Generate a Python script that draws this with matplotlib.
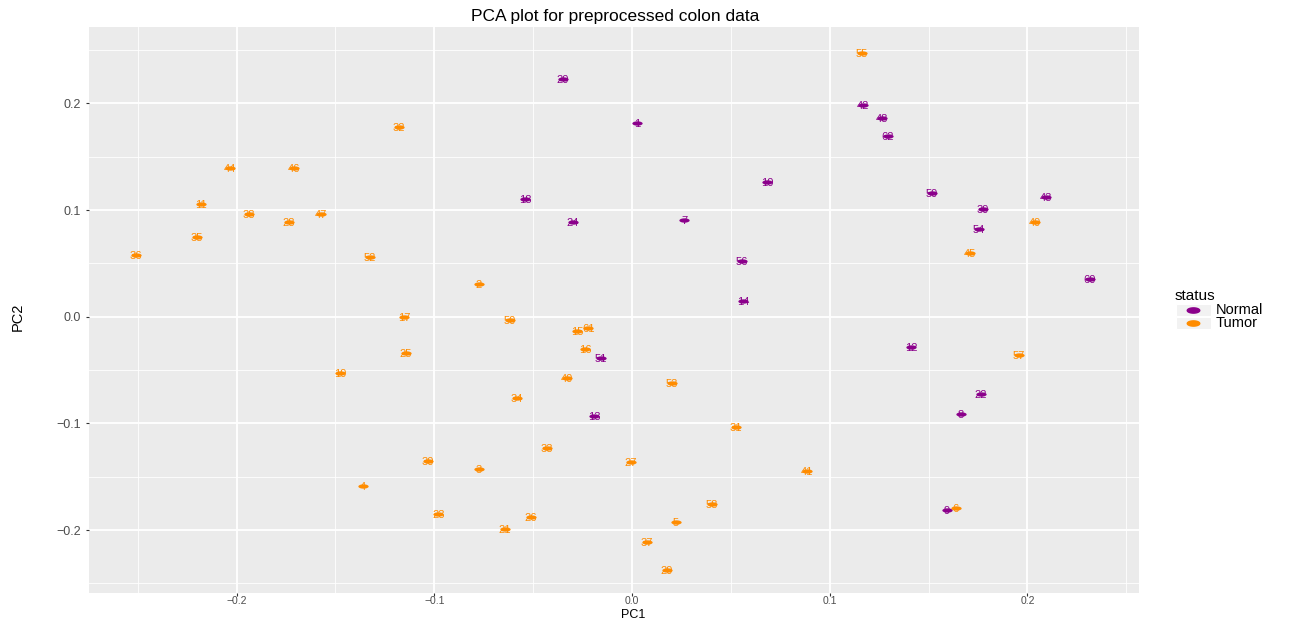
import numpy as np
import matplotlib
matplotlib.use("Agg")
import matplotlib.pyplot as plt
from matplotlib.path import Path
from matplotlib.lines import Line2D
from matplotlib.patches import Rectangle

plt.rcParams['font.family'] = ['Liberation Sans', 'DejaVu Sans']

# Tumor samples (orange)
tumor_lab = ["55", "32", "44", "46", "11", "38", "28", "47", "35", "36", "52", "2",
             "17", "50", "15", "61", "16", "19", "25", "40", "53", "34", "31", "33",
             "30", "27", "3", "41", "4", "58", "23", "26", "21", "5", "37", "29",
             "57", "6", "49", "45"]
tumor_pc1 = [0.1163, -0.1178, -0.2033, -0.1709, -0.2180, -0.1937, -0.1735, -0.1573,
             -0.2200, -0.2508, -0.1325, -0.0774, -0.1153, -0.0617, -0.0278, -0.0220,
             -0.0238, -0.1477, -0.1143, -0.0329, 0.0202, -0.0582, 0.0526, -0.0430,
             -0.1032, -0.0005, -0.0774, 0.0885, -0.1360, 0.0405, -0.0980, -0.0511,
             -0.0642, 0.0223, 0.0076, 0.0177, 0.1957, 0.1638, 0.2038, 0.1709]
tumor_pc2 = [0.2473, 0.1780, 0.1396, 0.1396, 0.1059, 0.0965, 0.0890, 0.0965,
             0.0749, 0.0581, 0.0562, 0.0309, 0.0000, -0.0028, -0.0131, -0.0103,
             -0.0300, -0.0525, -0.0337, -0.0571, -0.0618, -0.0759, -0.1030, -0.1227,
             -0.1349, -0.1358, -0.1424, -0.1443, -0.1583, -0.1752, -0.1845, -0.1874,
             -0.1986, -0.1920, -0.2108, -0.2370, -0.0356, -0.1789, 0.0890, 0.0600]

# Normal samples (purple)
normal_lab = ["20", "1", "18", "24", "7", "10", "56", "14", "42", "48", "62", "59",
              "39", "54", "43", "60", "12", "22", "8", "9", "51", "13"]
normal_pc1 = [-0.0349, 0.0025, -0.0541, -0.0298, 0.0263, 0.0683, 0.0556, 0.0561,
              0.1168, 0.1264, 0.1295, 0.1517, 0.1775, 0.1755, 0.2094, 0.2316,
              0.1411, 0.1765, 0.1664, 0.1593, -0.0157, -0.0192]
normal_pc2 = [0.2230, 0.1820, 0.1105, 0.0890, 0.0909, 0.1265, 0.0525, 0.0150,
              0.1986, 0.1864, 0.1696, 0.1162, 0.1012, 0.0824, 0.1124, 0.0356,
              -0.0281, -0.0721, -0.0909, -0.1808, -0.0384, -0.0927]

purple = "#8B008B"
orange = "#FF8C00"

# flattened dot, the reference is squashed vertically
t = np.linspace(0, 2 * np.pi, 40)
flat_dot = Path(np.column_stack([np.cos(t), 0.42 * np.sin(t)]), closed=True)

W, H = 1291, 618
fig = plt.figure(figsize=(W / 100, H / 100), dpi=100)
ax = fig.add_axes([89 / W, 25 / H, 1050 / W, 566 / H])
ax.set_facecolor("#EBEBEB")

for lab, xs, ys, col in [(normal_lab, normal_pc1, normal_pc2, purple),
                         (tumor_lab, tumor_pc1, tumor_pc2, orange)]:
    ax.scatter(xs, ys, marker=flat_dot, s=55, color=col, linewidths=0, zorder=3)
    for l, x, y in zip(lab, xs, ys):
        ax.text(x, y, l, color=col, fontsize=8, ha="center", va="center_baseline",
                zorder=4)

ax.set_xlim(-0.2746, 0.2564)
ax.set_ylim(-0.2590, 0.2717)
ax.set_xticks([-0.2, -0.1, 0.0, 0.1, 0.2])
ax.set_xticklabels(["\u22120.2", "\u22120.1", "0.0", "0.1", "0.2"])
ax.set_yticks([-0.2, -0.1, 0.0, 0.1, 0.2])
ax.set_yticklabels(["\u22120.2", "\u22120.1", "0.0", "0.1", "0.2"])
ax.set_xticks([-0.25, -0.15, -0.05, 0.05, 0.15, 0.25], minor=True)
ax.set_yticks([-0.25, -0.15, -0.05, 0.05, 0.15, 0.25], minor=True)
ax.grid(which="major", color="white", linewidth=1.3)
ax.grid(which="minor", color="white", linewidth=0.6)
ax.set_axisbelow(True)
for s in ax.spines.values():
    s.set_visible(False)
ax.tick_params(which="major", color="#333333", length=2.5, width=0.8,
               labelcolor="#4D4D4D", labelsize=9)
ax.tick_params(axis="x", which="major", labelsize=7.5, pad=0.5, length=2)
ax.tick_params(which="minor", length=0)

fig.text(633 / W, 1 - 617.5 / H, "PC1", fontsize=9, ha="center", va="baseline")
fig.text(18 / W, 1 - 317 / H, "PC2", fontsize=10.5, ha="center", va="center",
         rotation=90)
fig.text(615 / W, 1 - 16 / H, "PCA plot for preprocessed colon data",
         fontsize=12.5, ha="center", va="center")

# legend, drawn by hand to match the ggplot guide
fig.text(1175 / W, 1 - 296 / H, "status", fontsize=11, ha="left", va="center")
for i, (name, col) in enumerate([("Normal", purple), ("Tumor", orange)]):
    yc = 310 + 13 * i
    fig.patches.append(Rectangle((1176 / W, 1 - (yc + 6) / H), 35 / W, 12 / H,
                                 transform=fig.transFigure, facecolor="#F2F2F2",
                                 edgecolor="white", linewidth=0.8))
    fig.lines.append(Line2D([1193 / W], [1 - yc / H], marker=flat_dot, color=col,
                            markersize=9, linestyle="", transform=fig.transFigure))
    fig.text(1216 / W, 1 - yc / H, name, fontsize=10.5, ha="left", va="center")

fig.savefig("out.png", dpi=100)
